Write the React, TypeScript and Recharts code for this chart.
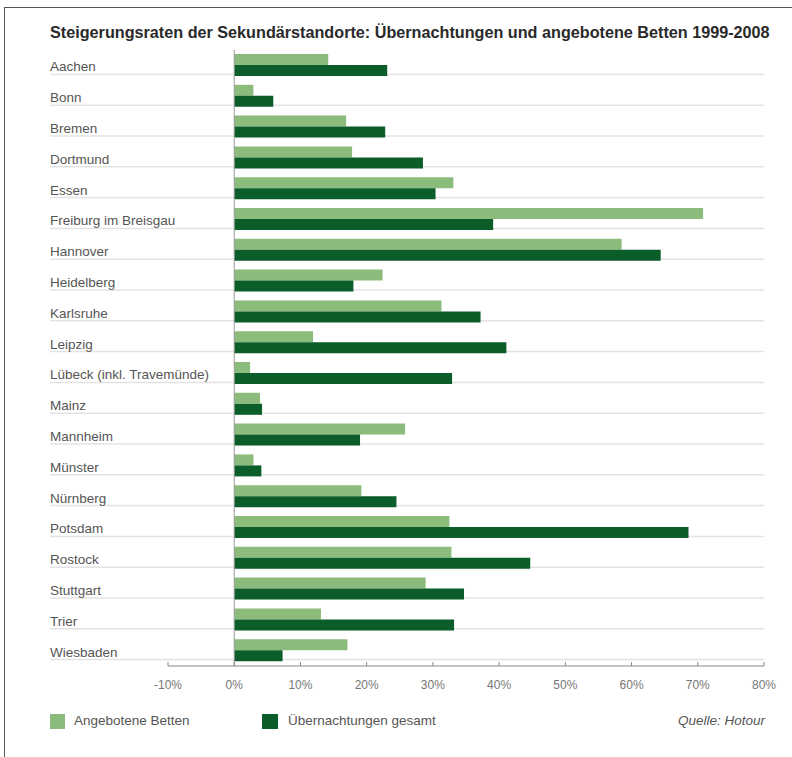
import { BarChart, Bar, XAxis, YAxis, ReferenceLine, CartesianGrid } from "recharts";

const CITIES = [
  "Aachen",
  "Bonn",
  "Bremen",
  "Dortmund",
  "Essen",
  "Freiburg im Breisgau",
  "Hannover",
  "Heidelberg",
  "Karlsruhe",
  "Leipzig",
  "Lübeck (inkl. Travemünde)",
  "Mainz",
  "Mannheim",
  "Münster",
  "Nürnberg",
  "Potsdam",
  "Rostock",
  "Stuttgart",
  "Trier",
  "Wiesbaden",
];

const BETTEN = [14.2, 2.9, 16.9, 17.8, 33.1, 70.8, 58.5, 22.4, 31.3, 11.9, 2.4, 3.9, 25.8, 2.9, 19.2, 32.5, 32.8, 28.9, 13.1, 17.1];
const UEBERNACHTUNGEN = [23.1, 5.9, 22.8, 28.5, 30.4, 39.1, 64.4, 18.0, 37.2, 41.1, 32.9, 4.2, 19.0, 4.1, 24.5, 68.6, 44.7, 34.7, 33.2, 7.3];

const X_TICKS = [-10, 0, 10, 20, 30, 40, 50, 60, 70, 80];

const LIGHT = "#8cbc7c";
const DARK = "#0b5d29";
const SEP = "#e3e3e3";
const FONT = "'Liberation Sans', Arial, sans-serif";

const data = CITIES.map((city, i) => ({
  city,
  betten: BETTEN[i],
  uebernachtungen: UEBERNACHTUNGEN[i],
}));

// separator lines sit a bit below each category centre
function separatorRows({ offset }: any) {
  const band = offset.height / CITIES.length;
  return CITIES.map((_, i) => offset.top + (i + 0.5) * band + 9);
}

function CityTick(props: any) {
  const { y, payload } = props;
  return (
    <g>
      <line x1={50} x2={168} y1={y + 9} y2={y + 9} stroke={SEP} strokeWidth={1.5} />
      <text x={50} y={y} dy={6} fontSize={13.5} style={{ fill: "#555" }} fontFamily={FONT}>
        {payload.value}
      </text>
    </g>
  );
}

function PercentTick(props: any) {
  const { x, y, payload } = props;
  return (
    <g>
      <line x1={x} x2={x} y1={y - 4} y2={y} stroke="#888" />
      <text x={x} y={y + 23} textAnchor="middle" fontSize={12} style={{ fill: "#777" }} fontFamily={FONT}>
        {`${payload.value}%`}
      </text>
    </g>
  );
}

export default function App() {
  return (
    <div
      style={{
        position: "absolute",
        left: 0,
        top: 0,
        width: 792,
        height: 757,
        background: "#fff",
        overflow: "hidden",
        fontFamily: FONT,
      }}
    >
      <div
        style={{
          position: "absolute",
          left: 4,
          top: 7,
          width: 900,
          height: 900,
          borderLeft: "1.5px solid #555",
          borderTop: "1.5px solid #555",
        }}
      />
      <div
        style={{
          position: "absolute",
          left: 50,
          top: 23,
          fontSize: 16.2,
          fontWeight: "bold",
          color: "#2a2a2a",
          whiteSpace: "nowrap",
        }}
      >
        Steigerungsraten der Sekundärstandorte: Übernachtungen und angebotene Betten 1999-2008
      </div>
      <div style={{ position: "absolute", left: 0, top: 0 }}>
        <BarChart
          width={792}
          height={757}
          data={data}
          layout="vertical"
          margin={{ top: 50, right: 28, bottom: 61, left: 50 }}
          barGap={0}
          barSize={11}
        >
          <CartesianGrid
            vertical={false}
            stroke={SEP}
            strokeWidth={1.5}
            horizontalCoordinatesGenerator={separatorRows}
          />
          <XAxis
            type="number"
            domain={[-10, 80]}
            ticks={X_TICKS}
            interval={0}
            axisLine={{ stroke: "#888" }}
            tickLine={false}
            tickSize={0}
            tickMargin={0}
            tick={<PercentTick />}
            height={30}
          />
          <YAxis
            type="category"
            dataKey="city"
            width={118}
            axisLine={false}
            tickLine={false}
            interval={0}
            tick={<CityTick />}
          />
          <Bar dataKey="betten" fill={LIGHT} isAnimationActive={false} />
          <Bar dataKey="uebernachtungen" fill={DARK} isAnimationActive={false} />
          <ReferenceLine x={0} stroke="#999" strokeWidth={1} />
        </BarChart>
      </div>
      <div style={{ position: "absolute", left: 50, top: 714, width: 15, height: 15, background: LIGHT }} />
      <div style={{ position: "absolute", left: 74, top: 713, fontSize: 13.5, color: "#555" }}>Angebotene Betten</div>
      <div style={{ position: "absolute", left: 262, top: 714, width: 16, height: 15, background: DARK }} />
      <div style={{ position: "absolute", left: 288, top: 713, fontSize: 13.5, color: "#555" }}>Übernachtungen gesamt</div>
      <div
        style={{
          position: "absolute",
          right: 27,
          top: 713,
          fontSize: 13.5,
          color: "#555",
          fontStyle: "italic",
        }}
      >
        Quelle: Hotour
      </div>
    </div>
  );
}
